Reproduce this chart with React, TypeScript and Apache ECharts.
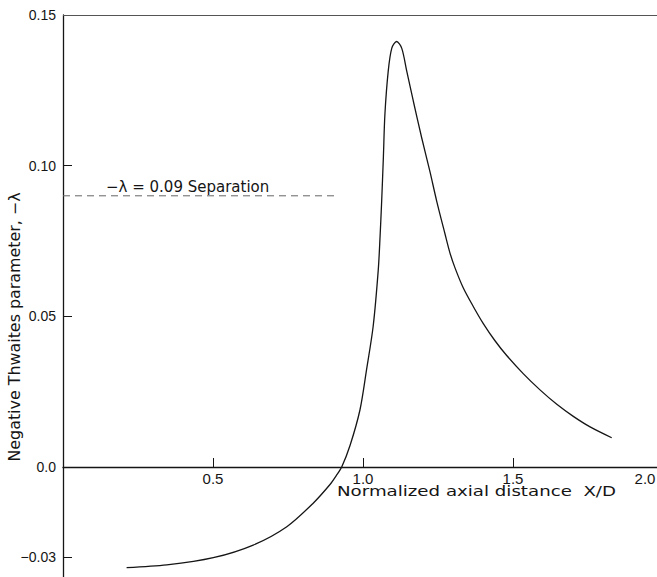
import React, { useEffect, useRef } from "react";
import * as echarts from "echarts";

const curveX = [0.212, 0.346, 0.501, 0.634, 0.746, 0.834, 0.89, 0.91, 0.929, 0.957, 0.99, 1.012, 1.034, 1.051, 1.057, 1.062, 1.068, 1.073, 1.084, 1.096, 1.112, 1.129, 1.146, 1.168, 1.196, 1.223, 1.246, 1.273, 1.29, 1.307, 1.334, 1.368, 1.401, 1.44, 1.479, 1.534, 1.59, 1.646, 1.701, 1.757, 1.829];
const curveY = [-0.0334, -0.0325, -0.0301, -0.0259, -0.0198, -0.012, -0.0058, -0.003, 0.0, 0.0072, 0.019, 0.0324, 0.0468, 0.0656, 0.0767, 0.0877, 0.103, 0.117, 0.1313, 0.139, 0.1412, 0.139, 0.1313, 0.1213, 0.1091, 0.0981, 0.0881, 0.0775, 0.071, 0.066, 0.0595, 0.0532, 0.0476, 0.0419, 0.037, 0.031, 0.0256, 0.0208, 0.0168, 0.0133, 0.0097];

const separationX = [0, 0.92];
const separationY = [0.09, 0.09];

const yTicks = [-0.03, 0, 0.05, 0.1, 0.15];
const yTickLabels = ["\u22120.03", "0.0", "0.05", "0.10", "0.15"];
const xTicks = [0.5, 1.0, 1.5, 2.0];
const xTickLabels = ["0.5", "1.0", "1.5", "2.0"];

export default function App() {
  const ref = useRef<HTMLDivElement>(null);
  useEffect(() => {
    if (!ref.current) return;
    const chart = echarts.init(ref.current, null, { renderer: "svg" });
    const ink = "#151515";
    chart.setOption({
      animation: false,
      backgroundColor: "#ffffff",
      grid: { left: 63, right: -6, top: 15, bottom: 0, containLabel: false, outerBoundsMode: "none" },
      xAxis: {
        type: "value",
        min: 0,
        max: 2.0,
        position: "bottom",
        offset: -110,
        axisLine: { show: true, onZero: false, lineStyle: { color: ink, width: 1.3 } },
        axisTick: { show: true, inside: true, length: 9, customValues: xTicks, lineStyle: { color: ink } },
        axisLabel: {
          show: true,
          customValues: xTicks,
          margin: 4,
          fontFamily: "Liberation Sans",
          fontSize: 15,
          color: ink,
          formatter: (v: number) => {
            const i = xTicks.findIndex((t) => Math.abs(t - v) < 1e-9);
            const s = i >= 0 ? xTickLabels[i] : "";
            return v === 2 ? "{r|" + s + "}" : s;
          },
          rich: { r: { padding: [0, 36, 0, 0], fontFamily: "Liberation Sans", fontSize: 15, color: ink } },
        },
        splitLine: { show: false },
      },
      yAxis: {
        type: "value",
        min: -0.0365,
        max: 0.15,
        axisLine: { show: true, lineStyle: { color: ink, width: 1.3 } },
        axisTick: { show: true, inside: true, length: 9, customValues: yTicks, lineStyle: { color: ink } },
        axisLabel: {
          show: true,
          customValues: yTicks,
          margin: 7,
          fontFamily: "Liberation Sans",
          fontSize: 14,
          color: ink,
          formatter: (v: number) => {
            const i = yTicks.findIndex((t) => Math.abs(t - v) < 1e-9);
            return i >= 0 ? yTickLabels[i] : "";
          },
        },
        splitLine: { show: false },
      },
      graphic: [
        {
          type: "text",
          x: 337,
          y: 491,
          scaleX: 1.3,
          style: {
            text: "Normalized axial distance  X/D",
            font: "14px 'DejaVu Sans'",
            fill: ink,
            align: "left",
            verticalAlign: "middle",
          },
        },
        {
          type: "text",
          x: 106,
          y: 187,
          style: {
            text: "\u2212\u03bb = 0.09 Separation",
            font: "15px 'DejaVu Sans'",
            fill: ink,
            align: "left",
            verticalAlign: "middle",
          },
        },
        {
          type: "text",
          x: 15,
          y: 327,
          rotation: Math.PI / 2,
          scaleX: 1.06,
          style: {
            text: "Negative Thwaites parameter, \u2212\u03bb",
            font: "15px 'DejaVu Sans'",
            fill: ink,
            align: "center",
            verticalAlign: "middle",
          },
        },
      ],
      series: [
        {
          type: "line",
          data: curveX.map((x, i) => [x, curveY[i]]),
          smooth: 0.3,
          showSymbol: false,
          lineStyle: { color: ink, width: 1.3 },
          markLine: {
            silent: true,
            symbol: "none",
            label: { show: false },
            lineStyle: { color: "#555", width: 1, type: "solid" },
            data: [{ yAxis: 0.15 }],
          },
          z: 3,
        },
        {
          type: "line",
          data: separationX.map((x, i) => [x, separationY[i]]),
          showSymbol: false,
          lineStyle: { color: "#666", width: 1, type: [7, 5] },
          z: 2,
        },
      ],
    });
    return () => chart.dispose();
  }, []);
  return <div ref={ref} style={{ position: "fixed", left: 0, top: 0, width: 657, height: 577 }} />;
}
